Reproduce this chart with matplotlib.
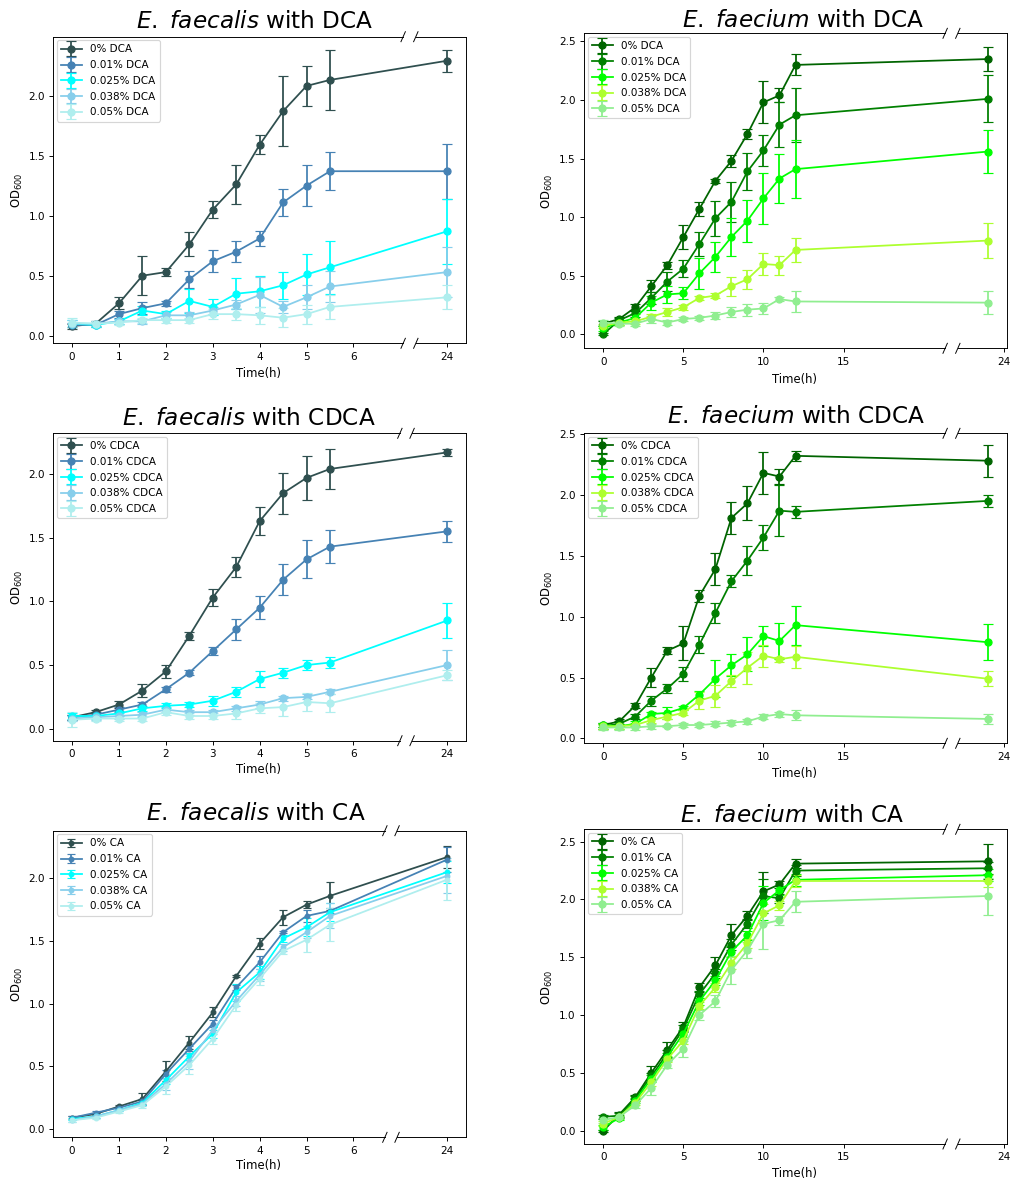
import matplotlib
matplotlib.use("Agg")
import matplotlib.pyplot as plt
from matplotlib.container import ErrorbarContainer
from matplotlib.legend_handler import HandlerErrorbar

# ---------------------------------------------------------------- data
concentrations = ["0%", "0.01%", "0.025%", "0.038%", "0.05%"]

# sampling times (h)
time_faecalis = [0, 0.5, 1, 1.5, 2, 2.5, 3, 3.5, 4, 4.5, 5, 5.5, 24]
time_faecium = [0, 1, 2, 3, 4, 5, 6, 7, 8, 9, 10, 11, 12, 24]

# E. faecalis + DCA : mean OD600 and SD, one row per concentration
faecalis_dca_od = [
    [0.08, 0.10, 0.27, 0.50, 0.53, 0.76, 1.05, 1.26, 1.59, 1.87, 2.08, 2.13, 2.29],
    [0.09, 0.09, 0.18, 0.23, 0.27, 0.47, 0.62, 0.70, 0.81, 1.11, 1.25, 1.37, 1.37],
    [0.10, 0.09, 0.12, 0.21, 0.18, 0.29, 0.24, 0.35, 0.37, 0.42, 0.51, 0.57, 0.87],
    [0.10, 0.10, 0.12, 0.12, 0.17, 0.17, 0.21, 0.26, 0.34, 0.24, 0.32, 0.41, 0.53],
    [0.11, 0.10, 0.11, 0.13, 0.13, 0.13, 0.18, 0.18, 0.17, 0.15, 0.18, 0.24, 0.32],
]
faecalis_dca_sd = [
    [0.02, 0.02, 0.05, 0.16, 0.03, 0.10, 0.07, 0.16, 0.08, 0.29, 0.17, 0.25, 0.09],
    [0.02, 0.02, 0.03, 0.05, 0.02, 0.07, 0.09, 0.09, 0.06, 0.11, 0.17, 0.16, 0.23],
    [0.03, 0.02, 0.02, 0.04, 0.03, 0.10, 0.07, 0.13, 0.13, 0.11, 0.17, 0.22, 0.27],
    [0.03, 0.02, 0.02, 0.02, 0.03, 0.03, 0.03, 0.04, 0.15, 0.05, 0.10, 0.13, 0.21],
    [0.04, 0.02, 0.02, 0.02, 0.02, 0.02, 0.04, 0.05, 0.07, 0.08, 0.08, 0.10, 0.10],
]

# E. faecium + DCA
faecium_dca_od = [
    [0.09, 0.13, 0.23, 0.41, 0.59, 0.83, 1.07, 1.31, 1.48, 1.71, 1.98, 2.04, 2.30, 2.35],
    [0.00, 0.12, 0.18, 0.31, 0.45, 0.56, 0.77, 0.99, 1.13, 1.39, 1.57, 1.79, 1.87, 2.01],
    [0.05, 0.10, 0.14, 0.27, 0.34, 0.35, 0.52, 0.66, 0.83, 0.97, 1.16, 1.33, 1.41, 1.56],
    [0.07, 0.10, 0.11, 0.15, 0.19, 0.23, 0.31, 0.33, 0.41, 0.47, 0.60, 0.59, 0.72, 0.80],
    [0.10, 0.09, 0.09, 0.13, 0.10, 0.13, 0.14, 0.16, 0.19, 0.21, 0.22, 0.30, 0.28, 0.27],
]
faecium_dca_sd = [
    [0.02, 0.02, 0.03, 0.05, 0.03, 0.10, 0.06, 0.02, 0.05, 0.04, 0.18, 0.06, 0.09, 0.10],
    [0.01, 0.02, 0.03, 0.05, 0.08, 0.07, 0.10, 0.15, 0.17, 0.16, 0.13, 0.19, 0.23, 0.20],
    [0.02, 0.02, 0.03, 0.06, 0.07, 0.05, 0.13, 0.13, 0.16, 0.18, 0.22, 0.21, 0.25, 0.18],
    [0.02, 0.02, 0.02, 0.02, 0.03, 0.02, 0.02, 0.02, 0.08, 0.08, 0.09, 0.08, 0.10, 0.15],
    [0.02, 0.02, 0.02, 0.03, 0.02, 0.02, 0.02, 0.03, 0.04, 0.05, 0.05, 0.02, 0.09, 0.10],
]

# E. faecalis + CDCA
faecalis_cdca_od = [
    [0.09, 0.13, 0.19, 0.30, 0.45, 0.73, 1.03, 1.27, 1.63, 1.85, 1.97, 2.04, 2.17],
    [0.09, 0.11, 0.15, 0.19, 0.31, 0.44, 0.61, 0.78, 0.95, 1.17, 1.33, 1.43, 1.55],
    [0.10, 0.10, 0.12, 0.16, 0.18, 0.19, 0.22, 0.29, 0.39, 0.44, 0.50, 0.52, 0.85],
    [0.08, 0.09, 0.10, 0.11, 0.15, 0.13, 0.13, 0.16, 0.19, 0.24, 0.25, 0.29, 0.50],
    [0.07, 0.08, 0.08, 0.08, 0.13, 0.10, 0.10, 0.12, 0.16, 0.17, 0.21, 0.20, 0.42],
]
faecalis_cdca_sd = [
    [0.02, 0.02, 0.03, 0.05, 0.05, 0.03, 0.07, 0.08, 0.11, 0.16, 0.17, 0.16, 0.03],
    [0.02, 0.02, 0.02, 0.02, 0.02, 0.02, 0.03, 0.08, 0.09, 0.12, 0.15, 0.13, 0.08],
    [0.02, 0.02, 0.02, 0.02, 0.02, 0.02, 0.04, 0.04, 0.06, 0.04, 0.04, 0.04, 0.14],
    [0.02, 0.02, 0.02, 0.02, 0.02, 0.02, 0.02, 0.02, 0.03, 0.02, 0.02, 0.02, 0.12],
    [0.06, 0.02, 0.02, 0.02, 0.02, 0.02, 0.02, 0.04, 0.04, 0.07, 0.07, 0.07, 0.04],
]

# E. faecium + CDCA
faecium_cdca_od = [
    [0.11, 0.14, 0.27, 0.50, 0.72, 0.78, 1.17, 1.39, 1.81, 1.93, 2.18, 2.15, 2.32, 2.28],
    [0.10, 0.12, 0.18, 0.31, 0.41, 0.53, 0.77, 1.03, 1.29, 1.46, 1.65, 1.87, 1.86, 1.95],
    [0.11, 0.10, 0.12, 0.20, 0.21, 0.25, 0.36, 0.49, 0.60, 0.69, 0.84, 0.80, 0.93, 0.79],
    [0.10, 0.10, 0.11, 0.15, 0.18, 0.21, 0.31, 0.35, 0.47, 0.58, 0.68, 0.65, 0.67, 0.49],
    [0.09, 0.09, 0.09, 0.10, 0.10, 0.11, 0.11, 0.12, 0.13, 0.14, 0.18, 0.20, 0.19, 0.16],
]
faecium_cdca_sd = [
    [0.02, 0.02, 0.02, 0.08, 0.03, 0.14, 0.05, 0.13, 0.13, 0.14, 0.17, 0.06, 0.04, 0.13],
    [0.02, 0.02, 0.02, 0.04, 0.04, 0.06, 0.07, 0.08, 0.05, 0.12, 0.10, 0.21, 0.05, 0.05],
    [0.02, 0.02, 0.02, 0.02, 0.05, 0.02, 0.03, 0.15, 0.09, 0.14, 0.08, 0.15, 0.16, 0.15],
    [0.02, 0.02, 0.02, 0.02, 0.02, 0.02, 0.07, 0.09, 0.05, 0.13, 0.09, 0.02, 0.09, 0.06],
    [0.02, 0.02, 0.02, 0.02, 0.01, 0.02, 0.02, 0.02, 0.02, 0.02, 0.02, 0.02, 0.04, 0.04],
]

# E. faecalis + CA
faecalis_ca_od = [
    [0.09, 0.12, 0.18, 0.24, 0.46, 0.69, 0.93, 1.22, 1.48, 1.69, 1.79, 1.86, 2.17],
    [0.09, 0.13, 0.17, 0.22, 0.44, 0.64, 0.84, 1.13, 1.33, 1.57, 1.70, 1.74, 2.15],
    [0.08, 0.10, 0.15, 0.21, 0.39, 0.58, 0.76, 1.09, 1.25, 1.52, 1.61, 1.73, 2.05],
    [0.07, 0.10, 0.15, 0.20, 0.36, 0.54, 0.79, 1.02, 1.23, 1.45, 1.57, 1.70, 2.02],
    [0.07, 0.09, 0.14, 0.19, 0.34, 0.51, 0.72, 0.99, 1.20, 1.42, 1.51, 1.63, 1.99],
]
faecalis_ca_sd = [
    [0.01, 0.01, 0.01, 0.05, 0.08, 0.05, 0.04, 0.01, 0.04, 0.06, 0.03, 0.11, 0.09],
    [0.01, 0.01, 0.01, 0.02, 0.03, 0.02, 0.03, 0.02, 0.05, 0.01, 0.05, 0.02, 0.10],
    [0.01, 0.01, 0.01, 0.02, 0.03, 0.03, 0.03, 0.07, 0.05, 0.03, 0.07, 0.07, 0.09],
    [0.01, 0.01, 0.01, 0.02, 0.05, 0.06, 0.03, 0.04, 0.05, 0.03, 0.05, 0.10, 0.14],
    [0.01, 0.01, 0.01, 0.02, 0.06, 0.07, 0.04, 0.05, 0.05, 0.02, 0.10, 0.13, 0.16],
]

# E. faecium + CA
faecium_ca_od = [
    [0.00, 0.14, 0.29, 0.50, 0.70, 0.90, 1.24, 1.43, 1.69, 1.86, 2.07, 2.13, 2.31, 2.33],
    [0.12, 0.13, 0.28, 0.47, 0.67, 0.88, 1.18, 1.36, 1.61, 1.79, 2.03, 2.01, 2.25, 2.27],
    [0.03, 0.11, 0.26, 0.45, 0.64, 0.84, 1.12, 1.30, 1.55, 1.69, 1.97, 2.08, 2.17, 2.21],
    [0.06, 0.12, 0.24, 0.42, 0.62, 0.78, 1.08, 1.24, 1.45, 1.62, 1.88, 1.95, 2.16, 2.16],
    [0.09, 0.12, 0.22, 0.37, 0.57, 0.71, 1.00, 1.12, 1.39, 1.56, 1.79, 1.82, 1.98, 2.03],
]
faecium_ca_sd = [
    [0.01, 0.02, 0.02, 0.06, 0.07, 0.04, 0.04, 0.07, 0.10, 0.04, 0.17, 0.03, 0.04, 0.15],
    [0.02, 0.02, 0.02, 0.03, 0.03, 0.03, 0.03, 0.04, 0.05, 0.04, 0.15, 0.04, 0.05, 0.05],
    [0.02, 0.02, 0.02, 0.03, 0.03, 0.03, 0.03, 0.04, 0.05, 0.04, 0.15, 0.04, 0.05, 0.05],
    [0.02, 0.02, 0.02, 0.03, 0.03, 0.03, 0.03, 0.04, 0.05, 0.04, 0.08, 0.04, 0.05, 0.05],
    [0.02, 0.02, 0.02, 0.06, 0.03, 0.07, 0.04, 0.05, 0.12, 0.07, 0.22, 0.04, 0.09, 0.16],
]

colors_faecalis = ["#2F4F4F", "#4682B4", "#00FFFF", "#87CEEB", "#AFEEEE"]
colors_faecium = ["#006400", "#008000", "#00FF00", "#ADFF2F", "#90EE90"]

# ---------------------------------------------------------------- figure
W, H, DPI = 1012, 1184, 85
fig = plt.figure(figsize=(W / DPI, H / DPI), dpi=DPI)
plt.rcParams["mathtext.fontset"] = "dejavusans"

TICK_FS = 8.8
LEGEND_FS = 8.8
LABEL_FS = 9.8
TITLE_FS = 19.6


def px_box(x0, x1, ytop, ybot):
    return [x0 / W, 1 - ybot / H, (x1 - x0) / W, (ybot - ytop) / H]


def axis_position(t, cut, shift):
    """Compress the time axis beyond the break."""
    return t if t <= cut else t - shift


def broken_spines(ax, lo, hi):
    """Top/bottom spines with a gap between lo and hi, marked by slashes."""
    ax.spines["top"].set_visible(False)
    ax.spines["bottom"].set_visible(False)
    x0, x1 = ax.get_xlim()
    bbox = ax.get_window_extent()
    ux = (x1 - x0) / bbox.width          # data units per pixel
    uy = 1.0 / bbox.height               # axes fraction per pixel
    tr = ax.get_xaxis_transform()
    kw = dict(transform=tr, color="black", lw=0.8, clip_on=False,
              solid_capstyle="projecting", zorder=5)
    for y in (0, 1):
        ax.plot([x0, lo], [y, y], **kw)
        ax.plot([hi, x1], [y, y], **kw)
        for xb in (lo, hi):
            ax.plot([xb - 2.2 * ux, xb + 2.2 * ux],
                    [y - 5 * uy, y + 5 * uy], **kw)


def panel(box, times, od, sd, colors, agent, species, xlim, ylim,
          cut, shift, ticks, ticklabels, gap, ms, cs, legend_err,
          title_xy, xlabel_xy, ylabel_xy):
    ax = fig.add_axes(px_box(*box))
    xs = [axis_position(t, cut, shift) for t in times]
    for i in range(len(od)):
        ax.errorbar(xs, od[i], yerr=sd[i], color=colors[i], marker="o",
                    ms=ms, capsize=cs, lw=1.5,
                    label=f"{concentrations[i]} {agent}")
    ax.set_xlim(*xlim)
    ax.set_ylim(*ylim)
    ax.set_xticks(ticks, ticklabels)
    ax.tick_params(labelsize=TICK_FS)
    ax.legend(loc="upper left", fontsize=LEGEND_FS, labelspacing=0.55,
              borderaxespad=0.35,
              handler_map={ErrorbarContainer: HandlerErrorbar(
                  xerr_size=0.5, yerr_size=legend_err)})
    broken_spines(ax, *gap)
    fig.text(title_xy[0] / W, 1 - title_xy[1] / H,
             rf"$\mathit{{E.}}$ $\mathit{{{species}}}$ with {agent}",
             fontsize=TITLE_FS, ha="center", va="baseline")
    fig.text(xlabel_xy[0] / W, 1 - xlabel_xy[1] / H, "Time(h)",
             fontsize=LABEL_FS, ha="center", va="center")
    fig.text(ylabel_xy[0] / W, 1 - ylabel_xy[1] / H, r"OD$_{600}$",
             fontsize=LABEL_FS, ha="center", va="center", rotation=90)
    return ax


fs_ticks = [0, 1, 2, 3, 4, 5, 6, 8]
fs_labels = ["0", "1", "2", "3", "4", "5", "6", "24"]
fm_ticks = [0, 5, 10, 15, 25]
fm_labels = ["0", "5", "10", "15", "24"]

panel((53.3, 466, 36.7, 343.3), time_faecalis, faecalis_dca_od, faecalis_dca_sd,
      colors_faecalis, "DCA", "faecalis", (-0.4, 8.4), (-0.063, 2.49),
      6, 16, fs_ticks, fs_labels, (7.06, 7.33), 6, 4, 0.72,
      (255, 28), (259, 373), (17, 190))
panel((584, 1007, 33.3, 348.3), time_faecium, faecium_dca_od, faecium_dca_sd,
      colors_faecium, "DCA", "faecium", (-1.2, 25.2), (-0.12, 2.57),
      24, 0, fm_ticks, fm_labels, (21.34, 22.13), 6, 4, 0.72,
      (803, 26.7), (795, 379), (547, 191))
panel((53.3, 466, 433.3, 740.7), time_faecalis, faecalis_cdca_od, faecalis_cdca_sd,
      colors_faecalis, "CDCA", "faecalis", (-0.4, 8.4), (-0.094, 2.32),
      6, 16, fs_ticks, fs_labels, (6.99, 7.25), 6, 4, 0.72,
      (249, 425), (259, 769.5), (17, 587))
panel((584, 1007, 433.3, 743.3), time_faecium, faecium_cdca_od, faecium_cdca_sd,
      colors_faecium, "CDCA", "faecium", (-1.2, 25.2), (-0.04, 2.505),
      24, 0, fm_ticks, fm_labels, (21.34, 22.13), 6, 4, 0.72,
      (796, 423.3), (795, 773), (547, 588))
panel((53.3, 466, 830.7, 1137.3), time_faecalis, faecalis_ca_od, faecalis_ca_sd,
      colors_faecalis, "CA", "faecalis", (-0.4, 8.4), (-0.066, 2.38),
      6, 16, fs_ticks, fs_labels, (6.67, 6.93), 4, 3, 0.4,
      (256, 820), (259, 1166), (17, 984))
panel((584, 1007, 829.3, 1144), time_faecium, faecium_ca_od, faecium_ca_sd,
      colors_faecium, "CA", "faecium", (-1.2, 25.2), (-0.115, 2.607),
      24, 0, fm_ticks, fm_labels, (21.34, 22.13), 6, 4, 0.72,
      (792, 821.7), (795, 1173), (547, 987))

fig.savefig("out.png", dpi=DPI)
